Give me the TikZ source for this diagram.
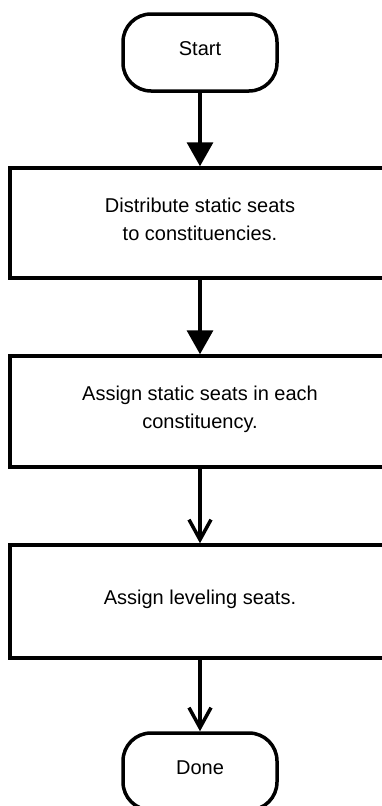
\documentclass[tikz,border=0pt]{standalone}
\usepackage{fontspec}
\setmainfont{Liberation Sans}
\usetikzlibrary{arrows.meta}
\begin{document}
\begin{tikzpicture}[x=1pt, y=-1pt, line width=3.5pt,
  font=\fontsize{20}{28}\selectfont,
  term/.style={draw, rounded corners=28pt, minimum width=154pt, minimum height=77pt, inner sep=0pt, text depth=8pt},
  stepbox/.style={draw, minimum width=380pt, inner sep=0pt, align=center, text depth=8pt},
  solid tip/.style={-{Triangle[width=26pt,length=24pt]}},
  open tip/.style={-{Straight Barb[width=22pt,length=20pt]}}]
\useasboundingbox (0,0) rectangle (382,806);
\clip (0,0) rectangle (382,806);
\node[term] (start) at (200,52.5) {Start};
\node[stepbox, minimum height=110pt] (n1) at (200,223) {Distribute static seats\\to constituencies.};
\node[stepbox, minimum height=111pt] (n2) at (200,411.5) {Assign static seats in each\\constituency.};
\node[stepbox, minimum height=113pt] (n3) at (200,601.5) {Assign leveling seats.};
\node[term] (done) at (200,771.5) {Done};
\draw[solid tip] (start) -- (n1);
\draw[solid tip] (n1) -- (n2);
\draw[open tip] (n2) -- (n3);
\draw[open tip] (n3) -- (done);
\end{tikzpicture}
\end{document}
